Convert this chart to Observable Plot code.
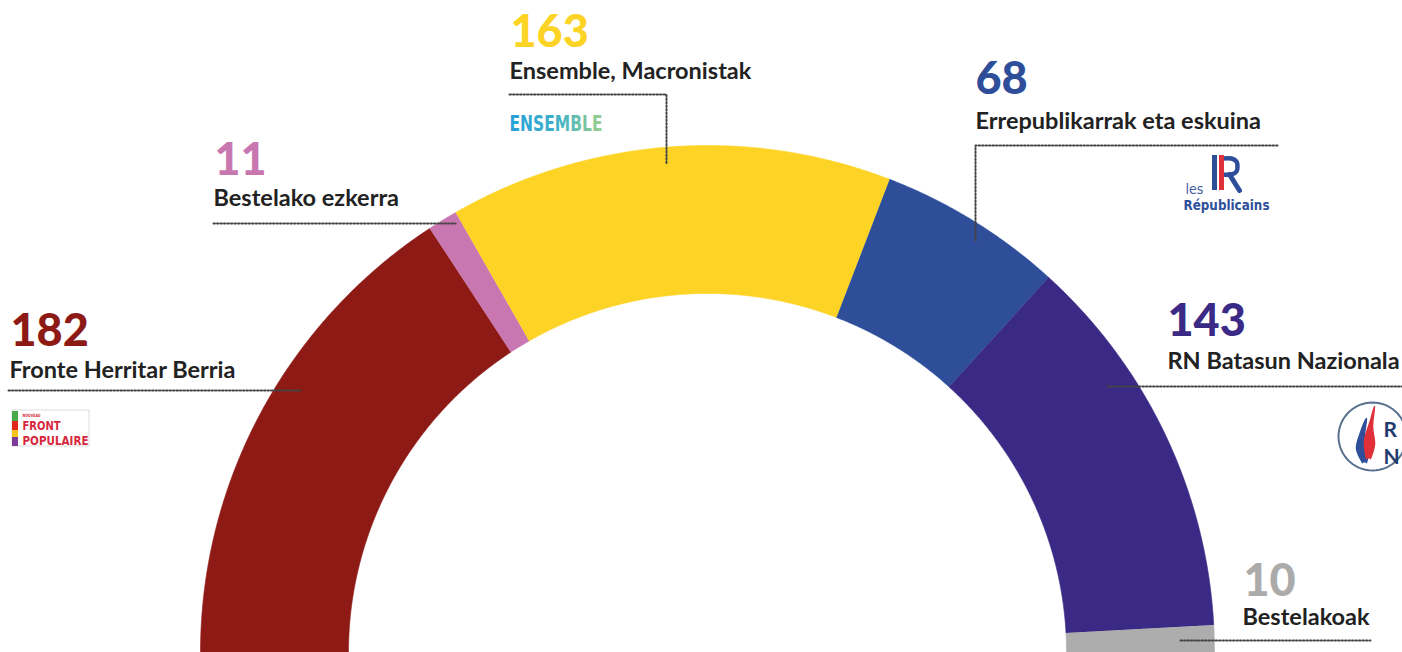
<!DOCTYPE html>
<html>
<head>
<meta charset="utf-8">
<script src="https://cdn.jsdelivr.net/npm/d3@7"></script>
<script src="https://cdn.jsdelivr.net/npm/@observablehq/plot@0.6"></script>
<style>
  html, body { margin: 0; padding: 0; background: #fff; }
  #chart svg { display: block; }
</style>
</head>
<body>
<div id="chart"></div>
<script>
// ---- data ----
const parties = ["Fronte Herritar Berria", "Bestelako ezkerra", "Ensemble, Macronistak",
                 "Errepublikarrak eta eskuina", "RN Batasun Nazionala", "Bestelakoak"];
const seats = [182, 11, 163, 68, 143, 10];

// ---- styles ----
const partyColors  = ["#8E1A16", "#C977B0", "#FDD426", "#2E4E9A", "#3A2A85", "#ADADAD"];
const numberColors = ["#8E1A16", "#C977B0", "#FDD426", "#2E4E9A", "#3A2A85", "#ABABAB"];

// ---- layout (pixels) ----
const W = 1402, H = 652, CX = 707, CY = 652, R = 507, INNER = 359 / 507;
const X = px => (px - CX) / R;
const Y = py => (CY - py) / R;

// annotation placement (pixel positions of label baselines and leader paths)
const labelLayout = [
  { num: [10, 345],   name: [9, 377],    leader: [[8, 390], [300, 390]] },
  { num: [214, 174],  name: [213, 205],  leader: [[213, 223], [455, 223]] },
  { num: [510, 46],   name: [509, 78],   leader: [[509, 94], [666, 94], [666, 163]] },
  { num: [975, 93],   name: [975, 128],  leader: [[1277, 145], [975, 145], [975, 242]] },
  { num: [1167, 335], name: [1167, 368], leader: [[1107, 386], [1402, 386]] },
  { num: [1243, 595], name: [1242, 624], leader: [[1180, 640], [1370, 640]] }
];

// ---- arc polygons from seats ----
const total = d3.sum(seats);
const arcs = [];
let cum = 0;
seats.forEach((s, i) => {
  const a0 = Math.PI * (1 - cum / total), a1 = Math.PI * (1 - (cum + s) / total);
  const n = Math.max(4, Math.ceil(s));
  const pts = [];
  for (let k = 0; k <= n; k++) { const a = a0 + (a1 - a0) * k / n; pts.push({ x: Math.cos(a), y: Math.sin(a) }); }
  for (let k = n; k >= 0; k--) { const a = a0 + (a1 - a0) * k / n; pts.push({ x: INNER * Math.cos(a), y: INNER * Math.sin(a) }); }
  arcs.push(pts);
  cum += s;
});

const FONT = "Lato, 'Open Sans', sans-serif";
const COND = "'DejaVu Sans Condensed', 'Liberation Sans Narrow', 'DejaVu Sans', sans-serif";

const labels = parties.map((p, i) => ({
  party: p, seats: seats[i], color: numberColors[i],
  nx: X(labelLayout[i].num[0]), ny: Y(labelLayout[i].num[1]),
  tx: X(labelLayout[i].name[0]), ty: Y(labelLayout[i].name[1])
}));
const leaders = labelLayout.flatMap((l, i) => l.leader.map(([px, py]) => ({ id: i, x: X(px), y: Y(py) })));

const marks = [];
// arc segments
arcs.forEach((pts, i) => {
  marks.push(Plot.line(pts, { x: "x", y: "y", fill: partyColors[i], stroke: partyColors[i], strokeWidth: 0.6, curve: "linear" }));
});
// leaders
marks.push(Plot.line(leaders, { x: "x", y: "y", z: "id", stroke: "#444", strokeWidth: 2, strokeDasharray: "1.5,2", curve: "linear" }));
// numbers
marks.push(Plot.text(labels, { x: "nx", y: "ny", text: d => String(d.seats), fill: "color",
  fontSize: 45, fontWeight: 900, fontFamily: FONT, textAnchor: "start", lineAnchor: "bottom" }));
// names
marks.push(Plot.text(labels, { x: "tx", y: "ty", text: "party", fill: "#222",
  fontSize: 23.5, fontWeight: 700, fontFamily: FONT, textAnchor: "start", lineAnchor: "bottom" }));

// ---- logos (decorative) ----
// Nouveau Front Populaire
marks.push(Plot.rect([0], { x1: X(12), x2: X(89), y1: Y(446), y2: Y(410), fill: "white", stroke: "#ddd", strokeWidth: 1 }));
[["#4aa84a", 411, 421], ["#e2261d", 421, 430], ["#f3c318", 430, 437], ["#7b3b98", 437, 446]].forEach(([c, a, b]) => {
  marks.push(Plot.rect([0], { x1: X(12), x2: X(18), y1: Y(b), y2: Y(a), fill: c }));
});
marks.push(Plot.text(["NOUVEAU"], { x: X(22), y: Y(416), text: d => d, fill: "#d6283c", fontSize: 4.5, fontWeight: 700, fontFamily: COND, textAnchor: "start", lineAnchor: "bottom" }));
marks.push(Plot.text(["FRONT"], { x: X(22), y: Y(429), text: d => d, fill: "#d6283c", fontSize: 12.5, fontWeight: 700, fontFamily: COND, textAnchor: "start", lineAnchor: "bottom" }));
marks.push(Plot.text(["POPULAIRE"], { x: X(22), y: Y(444), text: d => d, fill: "#d6283c", fontSize: 12.5, fontWeight: 700, fontFamily: COND, textAnchor: "start", lineAnchor: "bottom" }));
// Ensemble
marks.push(Plot.text(["ENSEMBLE"], { x: X(509), y: Y(130), text: d => d, fill: "url(#ensGrad)", fontSize: 22, fontWeight: 900, fontFamily: COND, textAnchor: "start", lineAnchor: "bottom" }));
// Les Républicains
marks.push(Plot.text(["les"], { x: X(1185), y: Y(193), text: d => d, fill: "#3e5c9e", fontSize: 14, fontFamily: COND, textAnchor: "start", lineAnchor: "bottom" }));
marks.push(Plot.rect([0], { x1: X(1212), x2: X(1217), y1: Y(190), y2: Y(155), fill: "#2E4E9A" }));
const lrBowl = [[1222, 158], [1231, 158], [1236, 161], [1237, 166], [1236, 171], [1231, 174], [1222, 174]].map(([a, b]) => ({ x: X(a), y: Y(b) }));
const lrLeg = [[1229, 174], [1239, 190]].map(([a, b]) => ({ x: X(a), y: Y(b) }));
marks.push(Plot.line(lrBowl, { x: "x", y: "y", stroke: "#2E4E9A", strokeWidth: 4.5, curve: "catmull-rom" }));
marks.push(Plot.line(lrLeg, { x: "x", y: "y", stroke: "#2E4E9A", strokeWidth: 5, curve: "linear" }));
marks.push(Plot.rect([0], { x1: X(1219), x2: X(1224), y1: Y(190), y2: Y(155), fill: "#e0303a" }));
marks.push(Plot.text(["Républicains"], { x: X(1183), y: Y(209), text: d => d, fill: "#2E4E9A", fontSize: 14, fontWeight: 700, fontFamily: COND, textAnchor: "start", lineAnchor: "bottom" }));
// Rassemblement National
const ringPts = d3.range(0, 361, 6).map(a => ({ x: X(1372 + 34 * Math.cos(a * Math.PI / 180)), y: Y(436 + 34 * Math.sin(a * Math.PI / 180)) }));
marks.push(Plot.line(ringPts, { x: "x", y: "y", stroke: "#5a7290", strokeWidth: 2, curve: "linear" }));
const flameBlue = [[1362, 462], [1356, 448], [1360, 432], [1366, 418], [1364, 436], [1368, 452], [1366, 462]].map(([a, b]) => ({ x: X(a), y: Y(b) }));
const flameRed  = [[1366, 458], [1364, 440], [1370, 420], [1374, 406], [1372, 426], [1374, 444], [1370, 458]].map(([a, b]) => ({ x: X(a), y: Y(b) }));
marks.push(Plot.line(flameBlue, { x: "x", y: "y", fill: "#2f4f9a", stroke: "#2f4f9a", curve: "catmull-rom" }));
marks.push(Plot.line(flameRed, { x: "x", y: "y", fill: "#e0303a", stroke: "#e0303a", curve: "catmull-rom" }));
marks.push(Plot.text(["R"], { x: X(1383), y: Y(436), text: d => d, fill: "#1f3b70", fontSize: 21, fontWeight: 700, fontFamily: FONT, textAnchor: "start", lineAnchor: "bottom" }));
marks.push(Plot.text(["N"], { x: X(1383), y: Y(463), text: d => d, fill: "#1f3b70", fontSize: 21, fontWeight: 700, fontFamily: FONT, textAnchor: "start", lineAnchor: "bottom" }));

const chart = Plot.plot({
  width: W, height: H,
  margin: 0, marginTop: 0, marginRight: 0, marginBottom: 0, marginLeft: 0,
  style: { background: "#fff", overflow: "hidden" },
  x: { domain: [X(0), X(W)], range: [0, W], axis: null },
  y: { domain: [Y(H), Y(0)], range: [H, 0], axis: null },
  marks
});

d3.select(chart).insert("defs", ":first-child").html(
  `<linearGradient id="ensGrad" x1="0" x2="1" y1="0" y2="0">
     <stop offset="0" stop-color="#27a0d8"/><stop offset="0.5" stop-color="#3db0c8"/><stop offset="1" stop-color="#9bd08a"/>
   </linearGradient>`);

// fit logo word widths to the reference
const fitWidths = { "ENSEMBLE": 93, "FRONT": 38, "POPULAIRE": 66, "Républicains": 86, "NOUVEAU": 18 };
d3.select(chart).selectAll("text").each(function () {
  const t = this.textContent;
  if (fitWidths[t]) d3.select(this).attr("textLength", fitWidths[t]).attr("lengthAdjust", "spacingAndGlyphs");
});

document.getElementById("chart").appendChild(chart);
</script>
</body>
</html>
